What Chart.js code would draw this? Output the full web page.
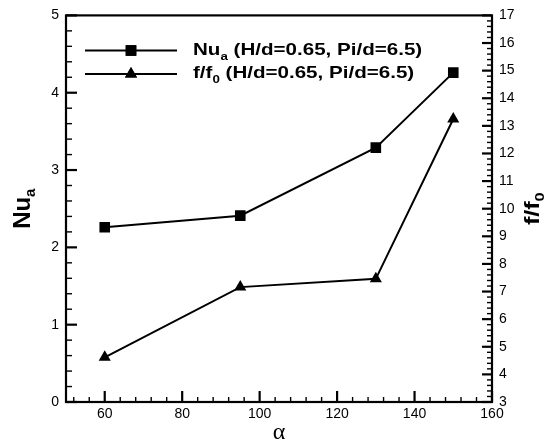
<!DOCTYPE html>
<html>
<head>
<meta charset="utf-8">
<script src="https://cdn.jsdelivr.net/npm/chart.js@4.4.0/dist/chart.umd.min.js"></script>
<style>
  html, body { margin: 0; padding: 0; background: #fff; }
  #wrap { width: 558px; height: 446px; }
</style>
</head>
<body>
<div id="wrap"><canvas id="chart"></canvas></div>
<script>
// twist angle vs. Nusselt number and friction factor ratio
const alpha = [60, 95, 130, 150];
const nuA = [2.26, 2.41, 3.29, 4.26];
const fRatio = [4.62, 7.16, 7.46, 13.25];

const xTicks = [60, 80, 100, 120, 140, 160];
const nuTicks = [0, 1, 2, 3, 4, 5];
const fTicks = [3, 4, 5, 6, 7, 8, 9, 10, 11, 12, 13, 14, 15, 16, 17];

const SANS = '"Liberation Sans", Arial, sans-serif';

function fixTicks(list) {
    return function (scale) {
        scale.ticks = list.map(v => ({ value: v }));
    };
}

// text with a subscript part; parts = [[text, size, dy], ...]
function drawParts(ctx, parts, x, y) {
    let cx = x;
    parts.forEach(p => {
        ctx.font = 'bold ' + p[1] + 'px ' + SANS;
        ctx.fillText(p[0], cx, y + p[2]);
        cx += ctx.measureText(p[0]).width;
    });
}

function partsWidth(ctx, parts) {
    let w = 0;
    parts.forEach(p => {
        ctx.font = 'bold ' + p[1] + 'px ' + SANS;
        w += ctx.measureText(p[0]).width;
    });
    return w;
}

function line(ctx, x1, y1, x2, y2, w) {
    ctx.lineWidth = w;
    ctx.beginPath();
    ctx.moveTo(x1, y1);
    ctx.lineTo(x2, y2);
    ctx.stroke();
}

const framePlugin = {
    id: 'frame',
    afterDraw(chart) {
        const ctx = chart.ctx;
        const a = chart.chartArea;
        const sx = chart.scales.x, sy = chart.scales.y, sf = chart.scales.y2;
        ctx.save();
        ctx.fillStyle = '#000';
        ctx.strokeStyle = '#000';

        // inward ticks, minor ones in between
        for (let i = 13; i <= 40; i++) {
            const v = i * 4;
            const px = sx.getPixelForValue(v);
            const major = v % 20 === 0;
            line(ctx, px, a.bottom, px, a.bottom - (major ? 11 : 5), major ? 2.2 : 1.4);
        }
        for (let i = 0; i <= 25; i++) {
            const py = sy.getPixelForValue(i * 0.2);
            const major = i % 5 === 0;
            line(ctx, a.left, py, a.left + (major ? 11 : 6), py, major ? 2.2 : 1.4);
        }
        for (let i = 0; i <= 70; i++) {
            const py = sf.getPixelForValue(3 + i * 0.2);
            const major = i % 5 === 0;
            line(ctx, a.right, py, a.right - (major ? 10 : 5), py, major ? 2.2 : 1.4);
        }

        // frame
        ctx.lineWidth = 2.2;
        ctx.strokeRect(a.left, a.top, a.right - a.left, a.bottom - a.top);

        // axis titles
        const midY = (a.top + a.bottom) / 2;
        ctx.textBaseline = 'alphabetic';
        ctx.textAlign = 'left';
        const nuTitle = [['Nu', 24, 0], ['a', 15, 5]];
        ctx.save();
        ctx.translate(30, midY);
        ctx.rotate(-Math.PI / 2);
        drawParts(ctx, nuTitle, -partsWidth(ctx, nuTitle) / 2, 0);
        ctx.restore();

        const fTitle = [['f/f', 20, 0], ['0', 13, 5]];
        ctx.save();
        ctx.translate(539, midY);
        ctx.rotate(-Math.PI / 2);
        ctx.scale(1.25, 1);
        drawParts(ctx, fTitle, -partsWidth(ctx, fTitle) / 2, 0);
        ctx.restore();

        ctx.font = '24px "Liberation Serif", "Times New Roman", serif';
        ctx.textAlign = 'center';
        ctx.fillText('\u03b1', (a.left + a.right) / 2, 439);

        // legend
        const rows = [
            { y: 50.5, style: 'rect', r: 7.5, parts: [['Nu', 17, 0], ['a', 11, 5], [' (H/d=0.65, Pi/d=6.5)', 17, 0]] },
            { y: 74, style: 'triangle', r: 7, parts: [['f/f', 17, 0], ['0', 11, 5], [' (H/d=0.65, Pi/d=6.5)', 17, 0]] }
        ];
        ctx.textAlign = 'left';
        rows.forEach(row => {
            line(ctx, 85, row.y, 177, row.y, 2);
            Chart.helpers.drawPoint(ctx, { pointStyle: row.style, radius: row.r, rotation: 0 }, 131, row.y);
            ctx.fill();
            ctx.save();
            ctx.translate(193, row.y + 4);
            ctx.scale(1.21, 1);
            drawParts(ctx, row.parts, 0, 0);
            ctx.restore();
        });
        ctx.restore();
    }
};

const tickFont = { family: SANS, size: 14 };

new Chart(document.getElementById('chart'), {
    type: 'scatter',
    data: {
        datasets: [
            {
                label: 'Nu_a',
                data: alpha.map((a, i) => ({ x: a, y: nuA[i] })),
                yAxisID: 'y',
                showLine: true,
                borderColor: '#000',
                backgroundColor: '#000',
                borderWidth: 2,
                pointStyle: 'rect',
                pointRadius: 7.5,
                pointBorderWidth: 0
            },
            {
                label: 'f/f0',
                data: alpha.map((a, i) => ({ x: a, y: fRatio[i] })),
                yAxisID: 'y2',
                showLine: true,
                borderColor: '#000',
                backgroundColor: '#000',
                borderWidth: 2,
                pointStyle: 'triangle',
                pointRadius: 7,
                pointBorderWidth: 0
            }
        ]
    },
    options: {
        responsive: true,
        maintainAspectRatio: false,
        animation: false,
        layout: { padding: { top: 12, left: 0, right: 0, bottom: 0 } },
        plugins: {
            legend: { display: false },
            tooltip: { enabled: false }
        },
        scales: {
            x: {
                type: 'linear',
                min: 50,
                max: 160,
                afterBuildTicks: fixTicks(xTicks),
                afterFit: s => { s.height = 44; },
                grid: { display: false, drawTicks: false },
                border: { display: false },
                ticks: { color: '#000', font: tickFont, padding: 4, maxRotation: 0, autoSkip: false }
            },
            y: {
                position: 'left',
                min: 0,
                max: 5,
                afterBuildTicks: fixTicks(nuTicks),
                afterFit: s => { s.width = 66; },
                grid: { display: false, drawTicks: false },
                border: { display: false },
                ticks: { color: '#000', font: tickFont, padding: 7 }
            },
            y2: {
                position: 'right',
                min: 3,
                max: 17,
                afterBuildTicks: fixTicks(fTicks),
                afterFit: s => { s.width = 66; },
                grid: { display: false, drawTicks: false },
                border: { display: false },
                ticks: { color: '#000', font: tickFont, padding: 7 }
            }
        }
    },
    plugins: [framePlugin]
});
</script>
</body>
</html>
